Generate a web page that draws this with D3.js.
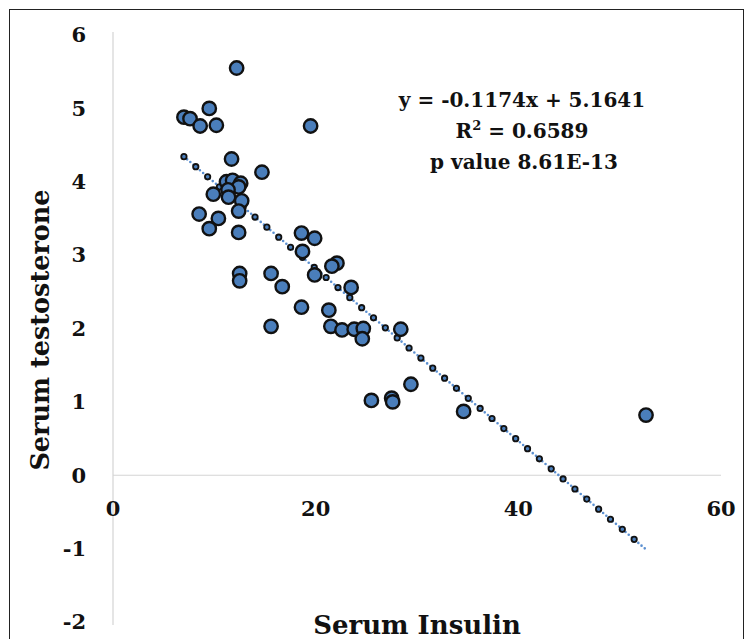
<!DOCTYPE html>
<html>
<head>
<meta charset="utf-8">
<script src="https://cdn.jsdelivr.net/npm/d3@7"></script>
<style>
  body { margin: 0; background: #fff; }
  text { font-family: "DejaVu Serif", "Liberation Serif", serif; font-weight: bold; fill: #111; }
</style>
</head>
<body>
<div id="chart"></div>
<script>
// serum insulin (x) vs serum testosterone (y)
var insulin = [12.2, 9.5, 7.0, 7.6, 8.6, 10.2, 19.5, 11.7, 14.7, 11.2, 11.8, 12.6, 12.4, 11.35,
  9.9, 11.4, 12.7, 12.4, 8.5, 10.4, 9.5, 12.4, 12.5, 12.5, 15.6, 16.7, 18.6, 15.6, 18.6, 18.7,
  19.9, 22.1, 21.6, 19.9, 23.5, 21.3, 21.5, 22.6, 23.8, 24.7, 24.6, 28.4, 29.4, 25.5, 27.5,
  27.6, 34.6, 52.6];
var testosterone = [5.55, 5.0, 4.88, 4.86, 4.76, 4.77, 4.76, 4.31, 4.13, 4.0, 4.02, 3.98, 3.93, 3.89,
  3.83, 3.79, 3.74, 3.6, 3.56, 3.5, 3.36, 3.31, 2.75, 2.65, 2.75, 2.57, 2.29, 2.03, 3.3, 3.05,
  3.23, 2.89, 2.85, 2.73, 2.56, 2.25, 2.03, 1.98, 1.99, 2.0, 1.86, 1.99, 1.24, 1.02, 1.05,
  1.0, 0.87, 0.82];
var xTicks = [0, 20, 40, 60];
var yTicks = [-2, -1, 0, 1, 2, 3, 4, 5, 6];
var slope = -0.1174, intercept = 5.1641;
var statLines = ["y = -0.1174x + 5.1641", "R2 = 0.6589", "p value 8.61E-13"];

var width = 752, height = 639;

var svg = d3.select('#chart')
  .append('svg')
  .attr('width', width)
  .attr('height', height);

// outer frame
svg.append('rect')
  .attr('x', 9.5).attr('y', 9.5)
  .attr('width', 734).attr('height', 660)
  .attr('fill', 'none')
  .attr('stroke', '#222')
  .attr('stroke-width', 1);

var x = d3.scaleLinear().domain([0, 60]).range([113, 721]);
var y = d3.scaleLinear().domain([-2, 6]).range([622, 35]);

// axis lines
svg.append('line')
  .attr('x1', x(0)).attr('x2', x(0))
  .attr('y1', y(6) - 3).attr('y2', y(-2) + 3)
  .attr('stroke', '#d4d4d4').attr('stroke-width', 1.2);
svg.append('line')
  .attr('x1', x(0)).attr('x2', x(60))
  .attr('y1', y(0)).attr('y2', y(0))
  .attr('stroke', '#d4d4d4').attr('stroke-width', 1.2);

// tick labels
svg.selectAll('.ytick')
  .data(yTicks)
  .enter()
  .append('text')
  .attr('class', 'ytick')
  .attr('x', 86)
  .attr('y', function (d) { return y(d); })
  .attr('dy', '0.35em')
  .attr('text-anchor', 'end')
  .style('font-size', '21px')
  .text(function (d) { return d; });

svg.selectAll('.xtick')
  .data(xTicks)
  .enter()
  .append('text')
  .attr('class', 'xtick')
  .attr('x', function (d) { return x(d); })
  .attr('y', y(0) + 33)
  .attr('dy', '0.35em')
  .attr('text-anchor', 'middle')
  .style('font-size', '21px')
  .text(function (d) { return d; });

// axis titles
svg.append('text')
  .attr('x', x(30))
  .attr('y', 634)
  .attr('text-anchor', 'middle')
  .style('font-size', '26px')
  .text('Serum Insulin');

svg.append('text')
  .attr('transform', 'translate(49,' + 330 + ') rotate(-90)')
  .attr('text-anchor', 'middle')
  .style('font-size', '25.5px')
  .text('Serum testosterone');

// trendline
var xr = d3.extent(insulin);
var x1 = x(xr[0]), y1 = y(slope * xr[0] + intercept);
var x2 = x(xr[1]), y2 = y(slope * xr[1] + intercept);
var step = Math.hypot(x2 - x1, y2 - y1) / 39;

var trend = svg.append('g');
function trendLayer(color, w, dash) {
  trend.append('line')
    .attr('x1', x1).attr('y1', y1)
    .attr('x2', x2).attr('y2', y2)
    .attr('stroke', color)
    .attr('stroke-width', w)
    .attr('stroke-linecap', 'round')
    .attr('stroke-dasharray', dash);
}
trendLayer('#5b8fd0', 2.6, '0 4.2');
trendLayer('#111', 7.2, '0 ' + step);
trendLayer('#4a7ebb', 3.6, '0 ' + step);

// points
svg.append('g')
  .selectAll('circle')
  .data(insulin)
  .enter()
  .append('circle')
  .attr('cx', function (d) { return x(d); })
  .attr('cy', function (d, i) { return y(testosterone[i]); })
  .attr('r', 6.7)
  .attr('fill', '#4a7ebb')
  .attr('stroke', '#111')
  .attr('stroke-width', 2.4);

// regression stats
var stats = svg.append('text')
  .attr('text-anchor', 'middle')
  .style('font-size', '20px');
stats.append('tspan').attr('x', 522).attr('y', 107).text(statLines[0]);
var r2 = stats.append('tspan').attr('x', 522).attr('y', 138);
r2.append('tspan').text('R');
r2.append('tspan').attr('dy', -8).style('font-size', '13px').text('2');
r2.append('tspan').attr('dy', 8).text(' = 0.6589');
stats.append('tspan').attr('x', 524).attr('y', 169).text(statLines[2]);
</script>
</body>
</html>
